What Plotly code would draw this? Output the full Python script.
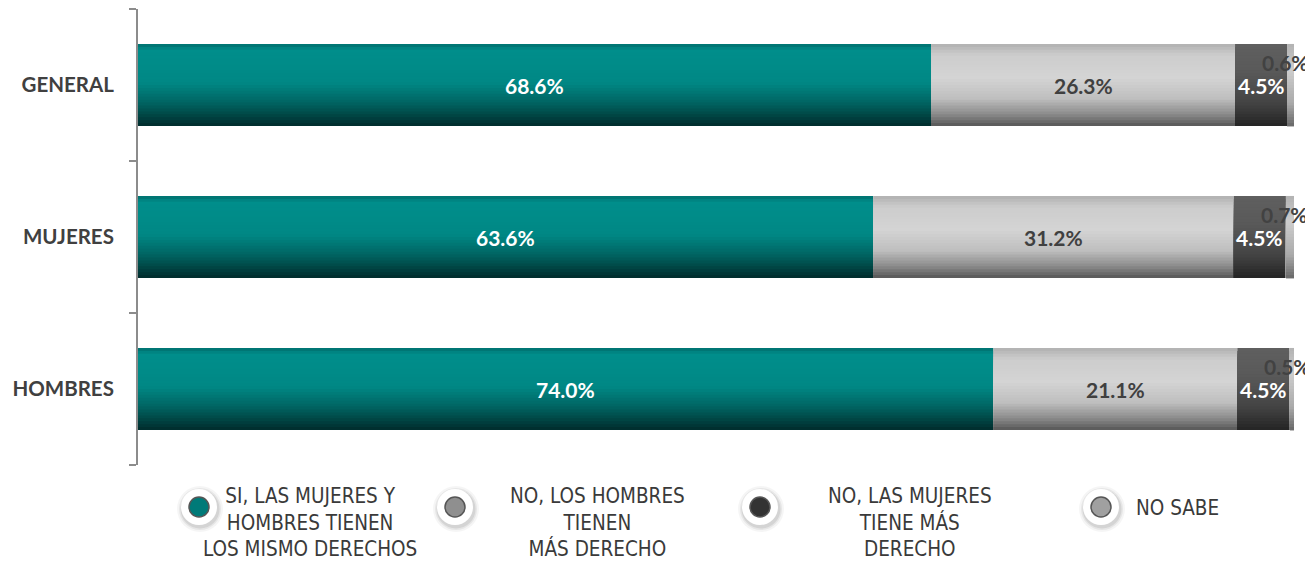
import plotly.graph_objects as go

categories = ["GENERAL", "MUJERES", "HOMBRES"]
series_names = [
    "SI, LAS MUJERES Y<br>HOMBRES TIENEN<br>LOS MISMO DERECHOS",
    "NO, LOS HOMBRES<br>TIENEN<br>MÁS DERECHO",
    "NO, LAS MUJERES<br>TIENE MÁS<br>DERECHO",
    "NO SABE",
]
si_iguales = [68.6, 63.6, 74.0]
no_hombres = [26.3, 31.2, 21.1]
no_mujeres = [4.5, 4.5, 4.5]
no_sabe = [0.6, 0.7, 0.5]
series_values = [si_iguales, no_hombres, no_mujeres, no_sabe]

# vertical gradient stops (fraction from top, rgb)
gradients = [
    [(0.0, (0, 118, 116)), (0.06, (0, 142, 139)), (0.45, (0, 136, 133)),
     (0.7, (0, 100, 98)), (0.88, (0, 64, 63)), (1.0, (0, 40, 40))],
    [(0.0, (180, 180, 180)), (0.12, (205, 205, 205)), (0.4, (212, 212, 212)),
     (0.65, (190, 190, 190)), (0.85, (135, 135, 135)), (1.0, (80, 80, 80))],
    [(0.0, (95, 95, 95)), (0.3, (90, 90, 90)), (0.7, (68, 68, 68)),
     (1.0, (34, 34, 34))],
    [(0.0, (180, 180, 180)), (0.3, (205, 205, 205)), (0.7, (170, 170, 170)),
     (1.0, (100, 100, 100))],
]
label_colors = ["white", "#404040", "white", "#404040"]
legend_colors = ["#007a78", "#8f8f8f", "#333333", "#a0a0a0"]


def interp(stops, t):
    for (t0, c0), (t1, c1) in zip(stops[:-1], stops[1:]):
        if t0 <= t <= t1:
            f = 0 if t1 == t0 else (t - t0) / (t1 - t0)
            c = [round(a + (b - a) * f) for a, b in zip(c0, c1)]
            return f"rgb({c[0]},{c[1]},{c[2]})"
    c = stops[-1][1]
    return f"rgb({c[0]},{c[1]},{c[2]})"


W = 0.54
N = 28
fig = go.Figure()

bases = [0.0] * len(categories)
all_bases = []
for s, vals in enumerate(series_values):
    all_bases.append(list(bases))
    for k in range(N):
        t = k / N
        fig.add_trace(go.Bar(
            orientation="h", y=categories, x=vals, base=list(bases),
            width=W * (1 - t), offset=-W / 2 + W * t,
            marker=dict(color=interp(gradients[s], t), line=dict(width=0)),
            hoverinfo="skip", showlegend=False,
        ))
    bases = [b + v for b, v in zip(bases, vals)]

annotations = []
BAR_FONT = "Lato, 'Open Sans', sans-serif"
for s, vals in enumerate(series_values):
    for i, v in enumerate(vals):
        xc = all_bases[s][i] + v / 2
        if s == 3:
            annotations.append(dict(
                x=xc, y=categories[i], xref="x", yref="y", text=f"<b>{v:.1f}%</b>",
                showarrow=False, yshift=23, xshift=-5, xanchor="center",
                font=dict(family=BAR_FONT, size=21, color="#424242")))
        else:
            annotations.append(dict(
                x=xc, y=categories[i], xref="x", yref="y", text=f"<b>{v:.1f}%</b>",
                showarrow=False, xanchor="center",
                font=dict(family=BAR_FONT, size=21, color=label_colors[s])))

# target picture coordinates (the page adds an 8px body margin)
OFF = 8
FW, FH = 1313 - OFF, 562 - OFF
L, R, T, B = 138, 1294, 9, 465


def px(x):
    return (x - L) / (R - L)


def py(y):
    return (B - y) / (B - T)


shapes = []
legend_pos = [(199, 507), (455, 507), (760, 507), (1101, 507)]
text_pos = [(310, 522, "center"), (597, 522, "center"), (910, 522, "center"), (1134, 508, "left")]
for i, (cx, cy) in enumerate(legend_pos):
    for r, a in [(23, 0.04), (21, 0.06), (19.5, 0.08)]:
        shapes.append(dict(type="circle", xref="paper", yref="paper", xsizemode="pixel", ysizemode="pixel",
                           xanchor=px(cx + 1), yanchor=py(cy + 2), x0=-r, x1=r, y0=-r, y1=r,
                           fillcolor=f"rgba(0,0,0,{a})", line=dict(width=0), layer="above"))
    shapes.append(dict(type="circle", xref="paper", yref="paper", xsizemode="pixel", ysizemode="pixel",
                       xanchor=px(cx), yanchor=py(cy), x0=-18, x1=18, y0=-18, y1=18,
                       fillcolor="white", line=dict(width=0), layer="above"))
    shapes.append(dict(type="circle", xref="paper", yref="paper", xsizemode="pixel", ysizemode="pixel",
                       xanchor=px(cx), yanchor=py(cy), x0=-10, x1=10, y0=-10, y1=10,
                       fillcolor=legend_colors[i], line=dict(width=1.5, color="#555555"), layer="above"))
for i, (tx, ty, al) in enumerate(text_pos):
    annotations.append(dict(
        x=px(tx), y=py(ty), xref="paper", yref="paper", text=series_names[i],
        showarrow=False, xanchor=al, yanchor="middle", align=al,
        font=dict(family="'DejaVu Sans Condensed', 'Liberation Sans Narrow', sans-serif",
                  size=20.5, color="#3a3a3a")))

fig.update_layout(
    width=FW, height=FH,
    margin=dict(l=L - OFF, r=FW - (R - OFF), t=T - OFF, b=FH - (B - OFF)),
    paper_bgcolor="white", plot_bgcolor="white",
    barmode="overlay",
    showlegend=False,
    xaxis=dict(range=[0, 100], visible=False, fixedrange=True),
    yaxis=dict(
        type="category", categoryorder="array", categoryarray=categories,
        range=[2.5, -0.5], showline=True, linecolor="#8c8c8c", linewidth=2,
        ticks="outside", ticklen=7, tickwidth=2, tickcolor="#8c8c8c", tickson="boundaries",
        tickfont=dict(family=BAR_FONT, size=20.5, color="#404040"),
        ticklabelstandoff=18, showgrid=False, zeroline=False, automargin=False,
        tickvals=categories, ticktext=[f"<b>{c}</b>" for c in categories],
    ),
    annotations=annotations,
    shapes=shapes,
)

fig.write_html("out.html")
